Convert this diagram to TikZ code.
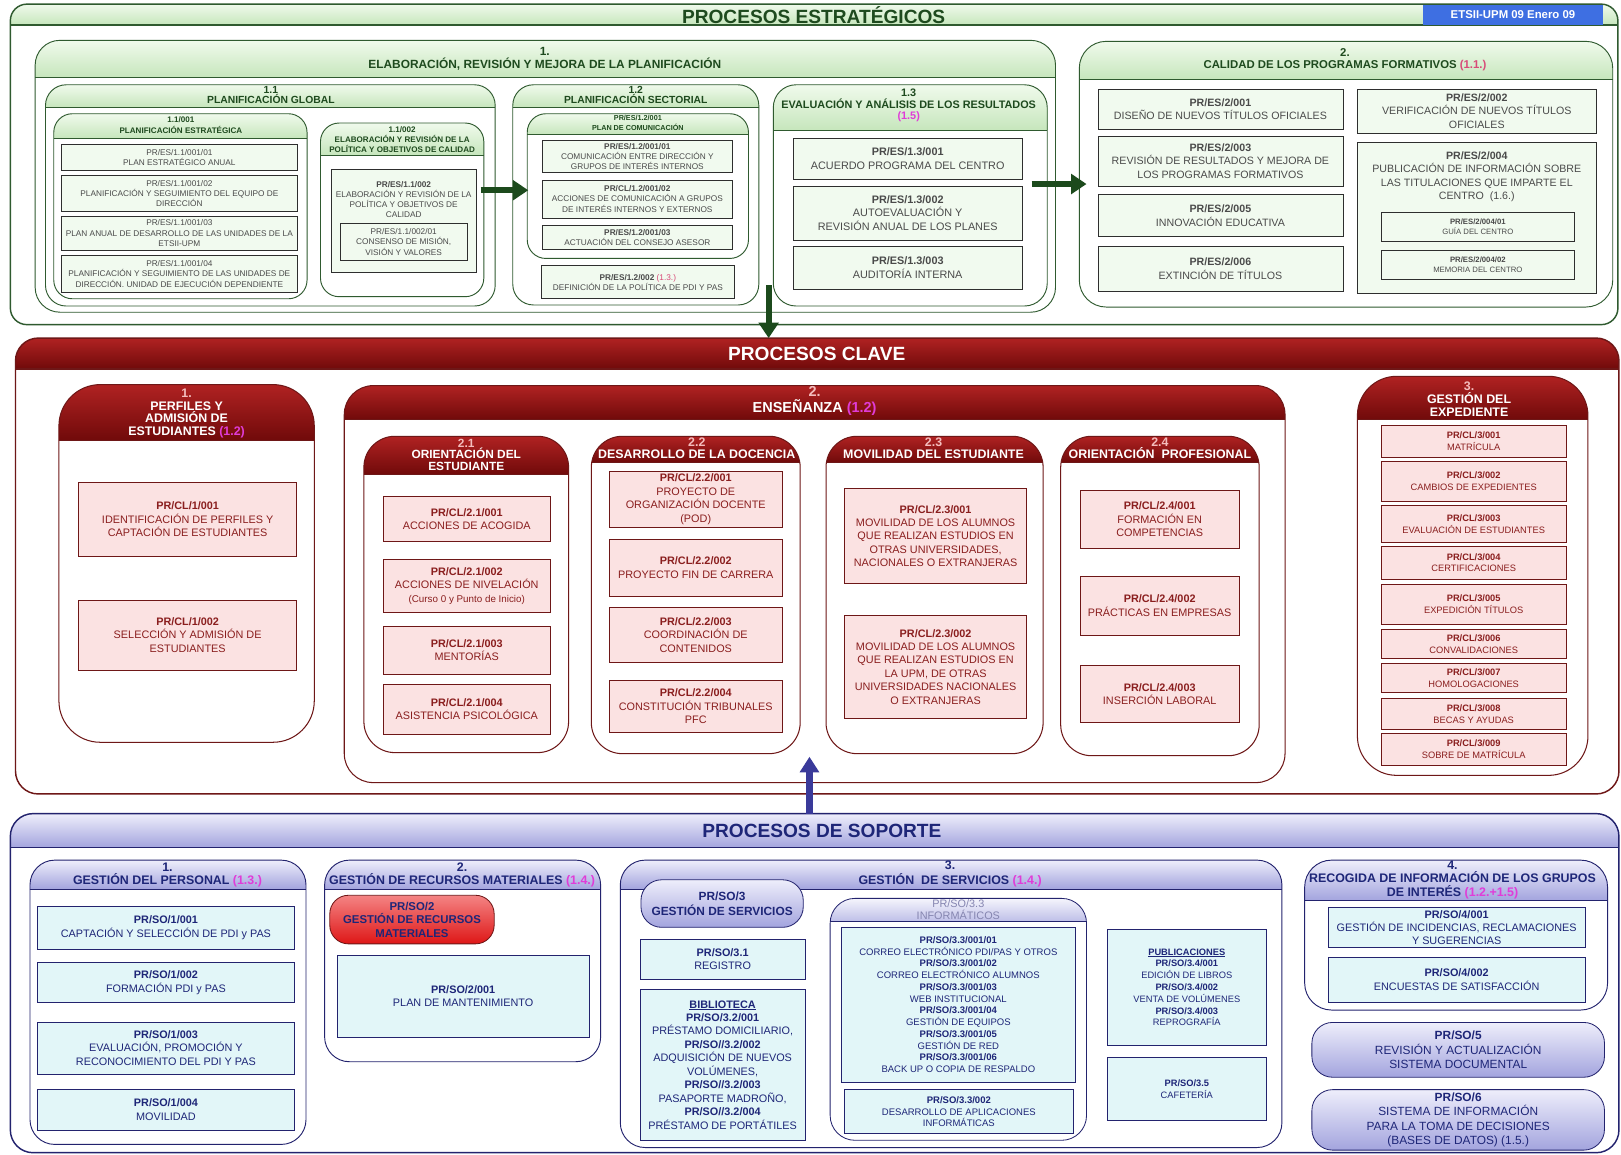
\documentclass[tikz,border=0pt]{standalone}
\usepackage{fontspec}
\setmainfont{Liberation Sans}
\usetikzlibrary{arrows.meta,calc,shadings}

\definecolor{cgl}{HTML}{2F5A2F}
\definecolor{cgh1}{HTML}{F0FAEC}
\definecolor{cgh2}{HTML}{C6E6BC}
\definecolor{cgf}{HTML}{F1FAEF}
\definecolor{cgt}{HTML}{4A4A4A}
\definecolor{cgc}{HTML}{2E2E2E}
\definecolor{cgtt}{HTML}{1E4A1E}
\definecolor{cga}{HTML}{1C4A1C}
\definecolor{crl}{HTML}{6E1717}
\definecolor{crh1}{HTML}{B02222}
\definecolor{crh2}{HTML}{700A0A}
\definecolor{crf}{HTML}{FBE2E2}
\definecolor{crt}{HTML}{8A1E1E}
\definecolor{crn}{HTML}{F4BDBD}
\definecolor{cbl}{HTML}{23236E}
\definecolor{cbh1}{HTML}{EEEEFB}
\definecolor{cbh2}{HTML}{A3A4DE}
\definecolor{cbf}{HTML}{E2F6F8}
\definecolor{cbt}{HTML}{1E2678}
\definecolor{cba}{HTML}{3A3A9A}
\definecolor{cpk}{HTML}{E03CD8}
\definecolor{cpr}{HTML}{D84A78}
\definecolor{cbadge}{HTML}{3E6FE2}
\definecolor{cinf}{HTML}{8585B0}
\definecolor{crp1}{HTML}{F48484}
\definecolor{crp2}{HTML}{DE1616}

\newcommand\fsz[2]{\fontsize{#1}{#2}\selectfont}
\newcommand\pcd[1]{\textbf{#1}}

% panel: name, kind, x1, y1, x2, y2, yheader, radius
\newcommand\mkpanel[8]{%
 \begin{scope}
  \clip[rounded corners=#8pt] (#3,#4) rectangle (#5,#6);
  \fill[#2bd] (#3,#4) rectangle (#5,#6);
  \shade[#2hd] (#3,#4) rectangle (#5,#7);
 \end{scope}
 \draw[#2ln, rounded corners=#8pt] (#3,#4) rectangle (#5,#6);
 \draw[#2ln] (#3,#7) -- (#5,#7);
 \pgfmathsetmacro\pnw{#5-#3}%
 \pgfmathsetmacro\pnh{#6-#4}%
 \node[inner sep=0, outer sep=0, minimum width=\pnw, minimum height=\pnh] (#1) at ({(#3+#5)/2},{(#4+#6)/2}) {};
}
% cell: name, style, x1, y1, x2, y2, text
\newcommand\mkcell[7]{%
 \pgfmathsetmacro\cw{#5-#3}%
 \pgfmathsetmacro\ch{#6-#4}%
 \node[#2, minimum width=\cw, minimum height=\ch] (#1) at ({(#3+#5)/2},{(#4+#6)/2}) {#7};
}

\tikzset{
 ghd/.style={top color=cgh1,bottom color=cgh2},
 gbd/.style={fill=white},
 gln/.style={draw=cgl,line width=0.9pt},
 ohd/.style={top color=cgh1,bottom color=cgh2},
 obd/.style={fill=white},
 oln/.style={draw=cgl,line width=1.4pt},
 rhd/.style={top color=crh1,bottom color=crh2},
 rbd/.style={fill=white},
 rln/.style={draw=crl,line width=1pt},
 khd/.style={top color=crh1,bottom color=crh2},
 kbd/.style={fill=white},
 kln/.style={draw=crl,line width=1.4pt},
 bhd/.style={top color=cbh1,bottom color=cbh2},
 bbd/.style={fill=white},
 bln/.style={draw=cbl,line width=0.9pt},
 uhd/.style={top color=cbh1,bottom color=cbh2},
 ubd/.style={fill=white},
 uln/.style={draw=cbl,line width=1.4pt},
 ihd/.style={top color=cbh1!60!white,bottom color=cbh2!70!white},
 ibd/.style={fill=white},
 iln/.style={draw=cbl,line width=0.8pt},
 gcell/.style={draw=cgc, line width=0.6pt, fill=cgf, text=cgt, align=center, inner sep=0pt},
 rcell/.style={draw=crl, line width=0.6pt, fill=crf, text=crt, align=center, inner sep=0pt},
 bcell/.style={draw=cbl, line width=0.6pt, fill=cbf, text=cbt, align=center, inner sep=0pt},
 bpill/.style={draw=cbl, line width=0.8pt, top color=cbh1, bottom color=cbh2, rounded corners=20pt, text=cbt, align=center, inner sep=0pt},
 rpill/.style={draw=crl, line width=0.8pt, top color=crp1, bottom color=crp2, rounded corners=18pt, text=cbt, align=center, inner sep=0pt},
 badge/.style={fill=cbadge, text=white, font=\fsz{11}{12}\bfseries, inner sep=0pt},
 ghtx/.style={align=center, text=cgtt, inner sep=0pt},
 rhtx/.style={align=center, text=white, inner sep=0pt},
 bhtx/.style={align=center, text=cbt, inner sep=0pt},
 itx/.style={align=center, text=cinf, inner sep=0pt},
 gtx/.style={align=center, text=cgt, inner sep=0pt},
 f75/.style={font=\fsz{7.5}{9.5}},
 f8/.style={font=\fsz{8}{9.8}},
 f9/.style={font=\fsz{9}{11.5}},
 f9p/.style={font=\fsz{9}{11.4}},
 f92/.style={font=\fsz{9.2}{11.35}},
 f103/.style={font=\fsz{10.3}{12.9}},
 f105/.style={font=\fsz{10.5}{13}},
 f105c/.style={font=\fsz{10.5}{12.5}},
 f11b/.style={font=\fsz{11}{13}\bfseries},
 f115/.style={font=\fsz{11.5}{14}},
 f115b/.style={font=\fsz{11.5}{14}\bfseries},
 garr/.style={draw=cga, line width=6pt, -{Triangle[length=15pt,width=19pt]}},
 barr/.style={draw=cba, line width=6pt, -{Triangle[length=15pt,width=18pt]}},
}

\begin{document}
\begin{tikzpicture}[x=1pt,y=-1pt]
\useasboundingbox (0,0) rectangle (1568,1117);
\fill[white] (0,0) rectangle (1568,1117);

% ================= PROCESOS ESTRATEGICOS =================
\mkpanel{strat}{o}{10}{4}{1565}{314}{24}{16}
\node[ghtx, font=\fsz{18.5}{20}\bfseries] (tstrat) at (787,14.5) {PROCESOS ESTRATÉGICOS};
\node[badge, minimum width=175, minimum height=19] (bdg) at (1463.5,14.5) {ETSII-UPM 09 Enero 09};

\mkpanel{p1}{g}{34}{39}{1021}{302}{75}{24}
\node[ghtx, font=\fsz{11.5}{13}\bfseries] (p1t) at (527,57) {1.\\ELABORACIÓN, REVISIÓN Y MEJORA DE LA PLANIFICACIÓN};

\mkpanel{p11}{g}{44}{82}{479}{296}{104}{20}
\node[ghtx, font=\fsz{10}{10}\bfseries] (p11t) at (262,92) {1.1\\PLANIFICACIÓN GLOBAL};

\mkpanel{p111}{g}{52}{110}{297}{289}{134}{18}
\node[ghtx, font=\fsz{7.8}{10}\bfseries] (p111t) at (175,121) {1.1/001\\PLANIFICACIÓN ESTRATÉGICA};
\mkcell{r1}{gcell,f8}{59}{140}{288}{165}{PR/ES/1.1/001/01\\PLAN ESTRATÉGICO ANUAL}
\mkcell{r2}{gcell,f8}{59}{170}{288}{204}{PR/ES/1.1/001/02\\PLANIFICACIÓN Y SEGUIMIENTO DEL EQUIPO DE\\DIRECCIÓN}
\mkcell{r3}{gcell,f8}{59}{209}{288}{242}{PR/ES/1.1/001/03\\PLAN ANUAL DE DESARROLLO DE LAS UNIDADES DE LA\\ETSII-UPM}
\mkcell{r4}{gcell,f8}{59}{247}{288}{283}{PR/ES/1.1/001/04\\PLANIFICACIÓN Y SEGUIMIENTO DE LAS UNIDADES DE\\DIRECCIÓN. UNIDAD DE EJECUCIÓN DEPENDIENTE}

\mkpanel{p112}{g}{310}{119}{468}{287}{150}{18}
\node[ghtx, font=\fsz{7.8}{10}\bfseries] (p112t) at (389,135) {1.1/002\\ELABORACIÓN Y REVISIÓN DE LA\\POLÍTICA Y OBJETIVOS DE CALIDAD};
\mkcell{r5}{gcell}{320}{164}{461}{263}{}
\node[gtx, f8] (r5t) at (390.5,193) {\pcd{PR/ES/1.1/002}\\ELABORACIÓN Y REVISIÓN DE LA\\POLÍTICA Y OBJETIVOS DE\\CALIDAD};
\mkcell{r6}{gcell,f8}{329}{216}{452}{252}{PR/ES/1.1/002/01\\CONSENSO DE MISIÓN,\\VISIÓN Y VALORES}

\mkpanel{p12}{g}{496}{82}{734}{295}{104}{20}
\node[ghtx, font=\fsz{10}{10}\bfseries] (p12t) at (615,92) {1.2\\PLANIFICACIÓN SECTORIAL};
\mkpanel{p121}{g}{510}{110}{724}{250}{130}{18}
\node[ghtx, font=\fsz{7}{9}\bfseries] (p121t) at (617,119) {PR/ES/1.2/001\\PLAN DE COMUNICACIÓN};
\mkcell{c1}{gcell,f8}{525}{136}{708}{167}{\pcd{PR/ES/1.2/001/01}\\COMUNICACIÓN ENTRE DIRECCIÓN Y\\GRUPOS DE INTERÉS INTERNOS}
\mkcell{c2}{gcell,f8}{525}{174}{708}{211}{\pcd{PR/CL/1.2/001/02}\\ACCIONES DE COMUNICACIÓN A GRUPOS\\DE INTERÉS INTERNOS Y EXTERNOS}
\mkcell{c3}{gcell,f8}{525}{218}{708}{241}{\pcd{PR/ES/1.2/001/03}\\ACTUACIÓN DEL CONSEJO ASESOR}
\mkcell{c4}{gcell,f8}{524}{257}{710}{289}{\pcd{PR/ES/1.2/002} \textcolor{cpr}{(1.3.)}\\DEFINICIÓN DE LA POLÍTICA DE PDI Y PAS}

\mkpanel{p13}{g}{748}{82}{1013}{296}{126}{22}
\node[ghtx, font=\fsz{10.5}{11}\bfseries] (p13t) at (879,102) {1.3\\EVALUACIÓN Y ANÁLISIS DE LOS RESULTADOS\\\textcolor{cpk}{(1.5)}};
\mkcell{t1}{gcell,f105}{767}{134}{989}{173}{\pcd{PR/ES/1.3/001}\\ACUERDO PROGRAMA DEL CENTRO}
\mkcell{t2}{gcell,f105}{767}{180}{989}{232}{\pcd{PR/ES/1.3/002}\\AUTOEVALUACIÓN Y\\REVISIÓN ANUAL DE LOS PLANES}
\mkcell{t3}{gcell,f105}{767}{238}{989}{280}{\pcd{PR/ES/1.3/003}\\AUDITORÍA INTERNA}

\mkpanel{p2}{g}{1044}{40}{1560}{297}{77}{26}
\node[ghtx, font=\fsz{11}{12}\bfseries] (p2t) at (1301,57.5) {2.\\CALIDAD DE LOS PROGRAMAS FORMATIVOS \textcolor{cpr}{(1.1.)}};
\mkcell{u1}{gcell,f103}{1062}{86.5}{1299}{125}{\pcd{PR/ES/2/001}\\DISEÑO DE NUEVOS TÍTULOS OFICIALES}
\mkcell{u3}{gcell,f103}{1062}{131.5}{1299}{180}{\pcd{PR/ES/2/003}\\REVISIÓN DE RESULTADOS Y MEJORA DE\\LOS PROGRAMAS FORMATIVOS}
\mkcell{u5}{gcell,f103}{1062}{188}{1299}{229}{\pcd{PR/ES/2/005}\\INNOVACIÓN EDUCATIVA}
\mkcell{u6}{gcell,f103}{1062}{238}{1299}{282}{\pcd{PR/ES/2/006}\\EXTINCIÓN DE TÍTULOS}
\mkcell{u2}{gcell,f103}{1313}{86.5}{1544}{128.5}{\pcd{PR/ES/2/002}\\VERIFICACIÓN DE NUEVOS TÍTULOS\\OFICIALES}
\mkcell{u4}{gcell}{1313}{138}{1544}{284}{}
\node[gtx, f103] (u4t) at (1428.5,171) {\pcd{PR/ES/2/004}\\PUBLICACIÓN DE INFORMACIÓN SOBRE\\LAS TITULACIONES QUE IMPARTE EL\\CENTRO~~(1.6.)};
\mkcell{v1}{gcell,f75}{1336}{205}{1523}{233}{\pcd{PR/ES/2/004/01}\\GUÍA DEL CENTRO}
\mkcell{v2}{gcell,f75}{1336}{242}{1523}{270}{\pcd{PR/ES/2/004/02}\\MEMORIA DEL CENTRO}

% ================= PROCESOS CLAVE =================
\mkpanel{clave}{k}{15}{327}{1566}{768}{357}{22}
\node[rhtx, font=\fsz{18.5}{20}\bfseries] (tclave) at (790,342) {PROCESOS CLAVE};

\mkpanel{q1}{r}{57}{372}{304}{718}{426}{40}
\node[rhtx, font=\fsz{12}{12.2}\bfseries] (q1t) at (180.5,400) {\textcolor{crn}{1.}\\PERFILES Y\\ADMISIÓN DE\\ESTUDIANTES \textcolor{cpk}{(1.2)}};
\mkcell{w1}{rcell,f105}{76}{467}{287}{538}{\pcd{PR/CL/1/001}\\IDENTIFICACIÓN DE PERFILES Y\\CAPTACIÓN DE ESTUDIANTES}
\mkcell{w2}{rcell,f105}{76}{580.5}{287}{648}{\pcd{PR/CL/1/002}\\SELECCIÓN Y ADMISIÓN DE\\ESTUDIANTES}

\mkpanel{q2}{r}{333}{373}{1243}{757}{406}{28}
\node[rhtx, font=\fsz{14}{16}\bfseries] (q2t) at (788,388) {\textcolor{crn}{2.}\\ENSEÑANZA \textcolor{cpk}{(1.2)}};

\mkpanel{q21}{r}{352}{422}{550}{728}{459}{30}
\node[rhtx, font=\fsz{11.5}{11.3}\bfseries] (q21t) at (451,440) {\textcolor{crn}{2.1}\\ORIENTACIÓN DEL\\ESTUDIANTE};
\mkcell{x1}{rcell,f105}{371}{480}{532}{524}{\pcd{PR/CL/2.1/001}\\ACCIONES DE ACOGIDA}
\mkcell{x2}{rcell,f105}{371}{541}{532}{592}{\pcd{PR/CL/2.1/002}\\ACCIONES DE NIVELACIÓN\\{\fsz{9.5}{13}(Curso 0 y Punto de Inicio)}}
\mkcell{x3}{rcell,f105}{371}{606}{532}{652}{\pcd{PR/CL/2.1/003}\\MENTORÍAS}
\mkcell{x4}{rcell,f105}{371}{662}{532}{710}{\pcd{PR/CL/2.1/004}\\ASISTENCIA PSICOLÓGICA}

\mkpanel{q22}{r}{572}{422}{774}{729}{447}{30}
\node[rhtx, font=\fsz{12}{12}\bfseries] (q22t) at (674,433.5) {\textcolor{crn}{2.2}\\DESARROLLO DE LA DOCENCIA};
\mkcell{y1}{rcell,f105}{589}{456}{757}{510}{\pcd{PR/CL/2.2/001}\\PROYECTO DE\\ORGANIZACIÓN DOCENTE\\(POD)}
\mkcell{y2}{rcell,f105}{589}{522}{757}{576.5}{\pcd{PR/CL/2.2/002}\\PROYECTO FIN DE CARRERA}
\mkcell{y3}{rcell,f105}{589}{587.5}{757}{641}{\pcd{PR/CL/2.2/003}\\COORDINACIÓN DE\\CONTENIDOS}
\mkcell{y4}{rcell,f105}{589}{658.5}{757}{708}{\pcd{PR/CL/2.2/004}\\CONSTITUCIÓN TRIBUNALES\\PFC}

\mkpanel{q23}{r}{799}{422}{1009}{729}{447}{30}
\node[rhtx, font=\fsz{12}{12}\bfseries] (q23t) at (903,433.5) {\textcolor{crn}{2.3}\\MOVILIDAD DEL ESTUDIANTE};
\mkcell{z1}{rcell,f105}{817}{472.5}{993}{564.5}{\pcd{PR/CL/2.3/001}\\MOVILIDAD DE LOS ALUMNOS\\QUE REALIZAN ESTUDIOS EN\\OTRAS UNIVERSIDADES,\\NACIONALES O EXTRANJERAS}
\mkcell{z2}{rcell,f105}{817}{595}{993}{695}{\pcd{PR/CL/2.3/002}\\MOVILIDAD DE LOS ALUMNOS\\QUE REALIZAN ESTUDIOS EN\\LA UPM, DE OTRAS\\UNIVERSIDADES NACIONALES\\O EXTRANJERAS}

\mkpanel{q24}{r}{1026}{422}{1218}{731}{447}{30}
\node[rhtx, font=\fsz{12}{12}\bfseries] (q24t) at (1122,433.5) {\textcolor{crn}{2.4}\\ORIENTACIÓN~~PROFESIONAL};
\mkcell{aa1}{rcell,f105}{1045}{474}{1198.5}{530.5}{\pcd{PR/CL/2.4/001}\\FORMACIÓN EN\\COMPETENCIAS}
\mkcell{aa2}{rcell,f105}{1045}{557}{1198.5}{614.5}{\pcd{PR/CL/2.4/002}\\PRÁCTICAS EN EMPRESAS}
\mkcell{aa3}{rcell,f105}{1045}{643.5}{1198.5}{699}{\pcd{PR/CL/2.4/003}\\INSERCIÓN LABORAL}

\mkpanel{q3}{r}{1313}{364}{1536}{750}{406}{38}
\node[rhtx, font=\fsz{12}{12.5}\bfseries] (q3t) at (1421,386.5) {\textcolor{crn}{3.}\\GESTIÓN DEL\\EXPEDIENTE};
\mkcell{e1}{rcell,f9}{1336}{411}{1515}{442.5}{\pcd{PR/CL/3/001}\\MATRÍCULA}
\mkcell{e2}{rcell,f9}{1336}{446.5}{1515}{484.5}{\pcd{PR/CL/3/002}\\CAMBIOS DE EXPEDIENTES}
\mkcell{e3}{rcell,f9}{1336}{488.5}{1515}{525}{\pcd{PR/CL/3/003}\\EVALUACIÓN DE ESTUDIANTES}
\mkcell{e4}{rcell,f9}{1336}{528}{1515}{560.5}{\pcd{PR/CL/3/004}\\CERTIFICACIONES}
\mkcell{e5}{rcell,f9}{1336}{565}{1515}{603.5}{\pcd{PR/CL/3/005}\\EXPEDICIÓN TÍTULOS}
\mkcell{e6}{rcell,f9}{1336}{609}{1515}{637}{\pcd{PR/CL/3/006}\\CONVALIDACIONES}
\mkcell{e7}{rcell,f9}{1336}{642}{1515}{669.5}{\pcd{PR/CL/3/007}\\HOMOLOGACIONES}
\mkcell{e8}{rcell,f9}{1336}{675.5}{1515}{705.5}{\pcd{PR/CL/3/008}\\BECAS Y AYUDAS}
\mkcell{e9}{rcell,f9}{1336}{709.5}{1515}{740}{\pcd{PR/CL/3/009}\\SOBRE DE MATRÍCULA}

% ================= PROCESOS DE SOPORTE =================
\mkpanel{soporte}{u}{10}{787}{1566}{1115}{820}{22}
\node[bhtx, font=\fsz{18.5}{20}\bfseries] (tsop) at (795,803.5) {PROCESOS DE SOPORTE};

\mkpanel{sb1}{b}{29}{832}{296}{1107}{860}{24}
\node[bhtx, font=\fsz{12}{12.8}\bfseries] (sb1t) at (162,846.4) {1.\\GESTIÓN DEL PERSONAL \textcolor{cpk}{(1.3.)}};
\mkcell{m1}{bcell,f105}{36}{876.5}{285}{918.5}{\pcd{PR/SO/1/001}\\CAPTACIÓN Y SELECCIÓN DE PDI y PAS}
\mkcell{m2}{bcell,f105}{36}{931}{285}{970}{\pcd{PR/SO/1/002}\\FORMACIÓN PDI y PAS}
\mkcell{m3}{bcell,f105}{36}{988.5}{285}{1039}{\pcd{PR/SO/1/003}\\EVALUACIÓN, PROMOCIÓN Y\\RECONOCIMIENTO DEL PDI Y PAS}
\mkcell{m4}{bcell,f105}{36}{1054}{285}{1093}{\pcd{PR/SO/1/004}\\MOVILIDAD}

\mkpanel{sb2}{b}{314}{832}{581}{1027}{860}{24}
\node[bhtx, font=\fsz{12}{12.8}\bfseries] (sb2t) at (447,846.4) {2.\\GESTIÓN DE RECURSOS MATERIALES \textcolor{cpk}{(1.4.)}};
\mkcell{m5}{rpill,f11b}{319}{866}{478}{913}{PR/SO/2\\GESTIÓN DE RECURSOS\\MATERIALES}
\mkcell{m6}{bcell,f105}{326}{924}{570}{1003.5}{\pcd{PR/SO/2/001}\\PLAN DE MANTENIMIENTO}

\mkpanel{sb3}{b}{600}{832}{1240}{1110}{860}{24}
\node[bhtx, font=\fsz{12}{14.5}\bfseries] (sb3t) at (919,845.5) {3.\\GESTIÓN~~DE SERVICIOS \textcolor{cpk}{(1.4.)}};
\mkcell{m7}{bpill,f115b}{620}{851}{777}{897}{PR/SO/3\\GESTIÓN DE SERVICIOS}
\mkcell{m8}{bcell,f105}{619}{908.5}{779}{947.5}{\pcd{PR/SO/3.1}\\REGISTRO}
\mkcell{m9}{bcell,f105}{619}{957}{779}{1103}{\pcd{\underline{BIBLIOTECA}}\\\pcd{PR/SO/3.2/001}\\PRÉSTAMO DOMICILIARIO,\\\pcd{PR/SO//3.2/002}\\ADQUISICIÓN DE NUEVOS\\VOLÚMENES,\\\pcd{PR/SO//3.2/003}\\PASAPORTE MADROÑO,\\\pcd{PR/SO//3.2/004}\\PRÉSTAMO DE PORTÁTILES}

\mkpanel{sb33}{i}{803}{869}{1051}{1103}{891}{24}
\node[itx, font=\fsz{10.5}{11.5}] (sb33t) at (927,879.5) {PR/SO/3.3\\INFORMÁTICOS};
\mkcell{m10}{bcell,f92}{814}{897}{1040}{1046.5}{\pcd{PR/SO/3.3/001/01}\\CORREO ELECTRÓNICO PDI/PAS Y OTROS\\\pcd{PR/SO/3.3/001/02}\\CORREO ELECTRÓNICO ALUMNOS\\\pcd{PR/SO/3.3/001/03}\\WEB INSTITUCIONAL\\\pcd{PR/SO/3.3/001/04}\\GESTIÓN DE EQUIPOS\\\pcd{PR/SO/3.3/001/05}\\GESTIÓN DE RED\\\pcd{PR/SO/3.3/001/06}\\BACK UP O COPIA DE RESPALDO}
\mkcell{m11}{bcell,f92}{817}{1054}{1038}{1096.5}{\pcd{PR/SO/3.3/002}\\DESARROLLO DE APLICACIONES\\INFORMÁTICAS}
\mkcell{m12}{bcell,f9p}{1071}{899}{1225}{1011}{\pcd{\underline{PUBLICACIONES}}\\\pcd{PR/SO/3.4/001}\\EDICIÓN DE LIBROS\\\pcd{PR/SO/3.4/002}\\VENTA DE VOLÚMENES\\\pcd{PR/SO/3.4/003}\\REPROGRAFÍA}
\mkcell{m13}{bcell,f9p}{1071}{1023}{1225}{1083.5}{\pcd{PR/SO/3.5}\\CAFETERÍA}

\mkpanel{sb4}{b}{1262}{832}{1555}{977}{871}{26}
\node[bhtx, font=\fsz{12}{12.9}\bfseries] (sb4t) at (1405,851) {4.\\RECOGIDA DE INFORMACIÓN DE LOS GRUPOS\\DE INTERÉS \textcolor{cpk}{(1.2.+1.5)}};
\mkcell{m14}{bcell,f105c}{1285}{877.5}{1533}{916.5}{\pcd{PR/SO/4/001}\\GESTIÓN DE INCIDENCIAS, RECLAMACIONES\\Y SUGERENCIAS}
\mkcell{m15}{bcell,f105}{1285}{926}{1533}{969.5}{\pcd{PR/SO/4/002}\\ENCUESTAS DE SATISFACCIÓN}
\mkcell{m16}{bpill,f115}{1269}{989}{1552}{1042}{\pcd{PR/SO/5}\\REVISIÓN Y ACTUALIZACIÓN\\SISTEMA DOCUMENTAL}
\mkcell{m17}{bpill,f115}{1269}{1054}{1552}{1112.5}{\pcd{PR/SO/6}\\SISTEMA DE INFORMACIÓN\\PARA LA TOMA DE DECISIONES\\(BASES DE DATOS) (1.5.)}

% ================= ARROWS =================
\draw[garr] ([xshift=-14pt,yshift=5pt]p11.east) -- ([xshift=15pt,yshift=4.5pt]p12.west);
\draw[garr] ([xshift=-15pt,yshift=11pt]p13.east) -- ([xshift=7pt,yshift=-9.5pt]p2.west);
\coordinate (a3) at (743.5,276);
\draw[garr] (a3) -- (a3 |- clave.north);
\coordinate (ba) at (783,732);
\draw[barr] (ba |- soporte.north) -- (ba);
\end{tikzpicture}
\end{document}
